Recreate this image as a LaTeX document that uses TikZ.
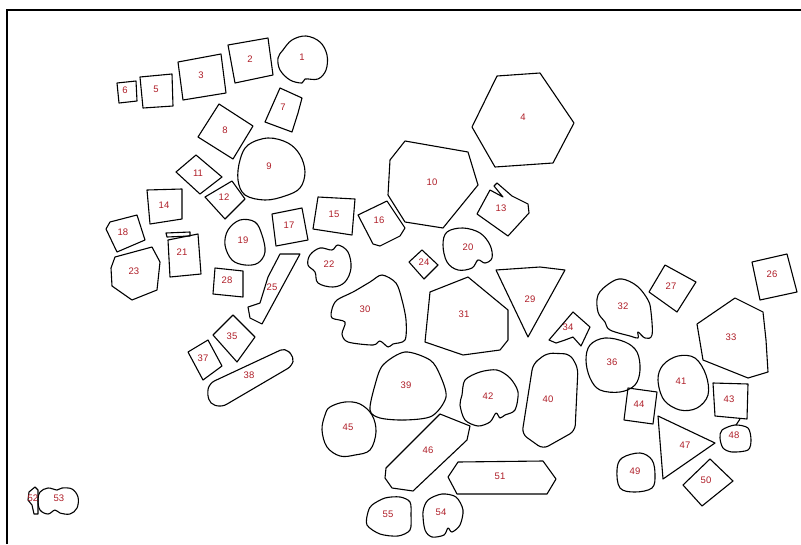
\documentclass[tikz,border=0pt]{standalone}
\usepackage{fontspec}
\setmainfont{Liberation Sans}
\definecolor{labred}{RGB}{175,30,40}
\tikzset{
  grain/.style={draw=black, line width=1.1pt, line join=round},
  blob/.style={grain},
  lbl/.style={text=labred, font=\fontsize{9.5}{10}\selectfont, inner sep=0pt}
}
\begin{document}
\begin{tikzpicture}[x=1pt,y=-1pt]
\useasboundingbox (0,0) rectangle (801,544);
\fill[white] (0,0) rectangle (801,544);
\draw[line width=1.6pt] (7,544) -- (7,10) -- (801,10);
% polygons
\draw[grain] (228,45) -- (268,38) -- (273,75) -- (235,83) -- cycle;
\draw[grain] (178,62) -- (221,54) -- (226,93) -- (183,100) -- cycle;
\draw[grain] (497,76) -- (540,73) -- (574,123) -- (553,163) -- (495,167) -- (472,127) -- cycle;
\draw[grain] (140,77) -- (172,74) -- (173,106) -- (143,108) -- cycle;
\draw[grain] (117,83) -- (136,81) -- (137,101) -- (119,103) -- cycle;
\draw[grain] (280,88) -- (302,98) -- (298,113) -- (292,132) -- (265,122) -- cycle;
\draw[grain] (219,104) -- (253,126) -- (233,159) -- (198,137) -- cycle;
\draw[grain] (405,141) -- (468,152) -- (478,185) -- (443,228) -- (405,222) -- (388,195) -- (390,160) -- cycle;
\draw[grain] (196,155) -- (222,177) -- (200,194) -- (176,172) -- cycle;
\draw[grain] (205,197) -- (232,181) -- (245,199) -- (225,219) -- cycle;
\draw[grain] (477,214) -- (490,190) -- (503,197) -- (494,186) -- (497,183) -- (512,196) -- (528,204) -- (529,213) -- (508,236) -- cycle;
\draw[grain] (147,190) -- (182,189) -- (182,219) -- (150,224) -- cycle;
\draw[grain] (318,197) -- (355,199) -- (352,235) -- (313,229) -- cycle;
\draw[grain] (358,215) -- (387,201) -- (405,228) -- (400,236) -- (380,246) -- (373,244) -- cycle;
\draw[grain] (272,214) -- (302,208) -- (308,240) -- (276,246) -- cycle;
\draw[grain] (106,229) -- (110,222) -- (137,215) -- (145,240) -- (117,252) -- cycle;
\draw[grain] (168,240) -- (198,234) -- (201,274) -- (170,277) -- cycle;
\draw[grain] (166,233) -- (190,232) -- (190,236) -- (167,237) -- cycle;
\draw[grain] (115,257) -- (152,247) -- (160,262) -- (157,290) -- (132,300) -- (112,286) -- (111,268) -- cycle;
\draw[grain] (409,262) -- (422,250) -- (438,265) -- (424,279) -- cycle;
\draw[grain] (280,254) -- (300,254) -- (262,324) -- (250,318) -- (248,307) -- (260,303) -- (268,277) -- cycle;
\draw[grain] (752,262) -- (787,254) -- (797,292) -- (760,300) -- cycle;
\draw[grain] (665,265) -- (696,282) -- (677,312) -- (649,292) -- cycle;
\draw[grain] (215,268) -- (243,271) -- (243,297) -- (213,294) -- cycle;
\draw[grain] (496,270) -- (540,267) -- (565,270) -- (528,337) -- cycle;
\draw[grain] (468,277) -- (508,310) -- (508,340) -- (500,350) -- (463,355) -- (425,342) -- (430,292) -- cycle;
\draw[grain] (735,298) -- (763,312) -- (766,340) -- (768,372) -- (748,378) -- (703,360) -- (697,324) -- cycle;
\draw[grain] (549,340) -- (573,312) -- (590,327) -- (581,346) -- (573,337) -- (565,340) -- (556,343) -- cycle;
\draw[grain] (233,315) -- (255,337) -- (237,362) -- (213,335) -- cycle;
\draw[grain] (188,352) -- (208,340) -- (222,366) -- (203,380) -- cycle;
\draw[grain, rounded corners=5pt] (210,383) -- (285,348) -- (294,357) -- (292,366) -- (222,407) -- (210,404) -- (207,392) -- cycle;
\draw[grain, rounded corners=6pt] (547,353) -- (570,354) -- (578,368) -- (575,431) -- (543,449) -- (522,434) -- (533,364) -- cycle;
\draw[grain] (713,383) -- (748,384) -- (747,419) -- (715,416) -- cycle;
\draw[grain] (628,388) -- (657,392) -- (653,424) -- (624,420) -- cycle;
\draw[grain] (386,468) -- (440,414) -- (470,426) -- (467,440) -- (413,491) -- (392,488) -- (385,478) -- cycle;
\draw[grain] (658,416) -- (715,443) -- (663,479) -- cycle;
\draw[grain] (710,459) -- (733,481) -- (702,506) -- (683,485) -- cycle;
\draw[grain] (458,462) -- (543,461) -- (556,479) -- (547,494) -- (457,494) -- (448,477) -- cycle;
\draw[grain] (29,492) -- (35,487) -- (38,490) -- (38,514) -- (34,514) -- (32,505) -- (28,500) -- cycle;
% blobs
\draw[blob] plot[smooth cycle, tension=0.6] coordinates {(283,50) (292,40) (306,36) (320,42) (327,55) (326,70) (318,79) (305,79) (302,83) (290,80) (280,70) (278,58)};
\draw[blob] plot[smooth cycle, tension=0.6] coordinates {(248,145) (268,138) (288,143) (300,155) (305,172) (300,188) (285,196) (265,200) (245,195) (238,180) (240,160)};
\draw[blob] plot[smooth cycle, tension=0.6] coordinates {(228,230) (240,220) (255,222) (262,235) (265,252) (258,263) (245,265) (232,260) (225,245)};
\draw[blob] plot[smooth cycle, tension=0.6] coordinates {(447,232) (463,228) (480,233) (490,245) (492,258) (485,263) (478,260) (472,268) (458,270) (447,262) (443,245)};
\draw[blob] plot[smooth cycle, tension=0.6] coordinates {(310,255) (320,248) (332,250) (338,245) (348,252) (351,268) (345,282) (333,287) (318,283) (315,272) (308,265)};
\draw[blob] plot[smooth cycle, tension=0.5] coordinates {(337,300) (353,292) (370,282) (382,275) (396,283) (402,300) (406,320) (405,340) (393,344) (388,347) (380,341) (373,345) (348,342) (342,334) (345,322) (332,318) (332,309)};
\draw[blob] plot[smooth cycle, tension=0.6] coordinates {(598,295) (610,283) (622,279) (637,286) (648,300) (651,312) (652,335) (645,338) (638,332) (638,338) (630,336) (610,330) (605,322) (598,312)};
\draw[blob] plot[smooth cycle, tension=0.6] coordinates {(590,345) (605,338) (625,342) (637,352) (640,370) (635,385) (620,392) (600,390) (590,378) (586,360)};
\draw[blob] plot[smooth cycle, tension=0.5] coordinates {(383,365) (405,352) (430,360) (440,375) (446,397) (432,416) (405,420) (380,418) (370,410) (375,385)};
\draw[blob] plot[smooth cycle, tension=0.6] coordinates {(663,365) (678,356) (695,358) (706,375) (708,395) (697,408) (680,410) (664,400) (658,380)};
\draw[blob] plot[smooth cycle, tension=0.5] coordinates {(465,380) (480,372) (497,370) (510,378) (518,392) (515,410) (505,415) (500,418) (496,413) (490,422) (478,426) (465,420) (460,405) (462,395)};
\draw[blob] plot[smooth cycle, tension=0.6] coordinates {(330,407) (345,402) (360,404) (372,415) (376,432) (370,450) (355,455) (340,456) (327,447) (322,430) (325,415)};
\draw[blob] plot[smooth cycle, tension=0.5] coordinates {(722,430) (735,425) (748,428) (751,440) (748,450) (732,452) (723,448) (720,438)};
\draw[grain] (740,419) -- (736,425);
\draw[blob] plot[smooth cycle, tension=0.6] coordinates {(622,458) (640,453) (652,460) (655,475) (652,488) (635,492) (620,488) (617,470)};
\draw[blob] plot[smooth cycle, tension=0.6] coordinates {(40,492) (48,488) (57,490) (62,488) (72,489) (78,497) (77,508) (70,514) (60,513) (55,510) (48,514) (40,510) (38,500)};
\draw[blob] plot[smooth cycle, tension=0.5] coordinates {(428,500) (442,494) (456,497) (463,510) (460,525) (452,532) (448,528) (444,535) (432,537) (425,530) (423,512)};
\draw[blob] plot[smooth cycle, tension=0.5] coordinates {(372,505) (385,498) (400,497) (410,502) (411,515) (410,530) (398,536) (380,534) (367,525) (368,512)};
% labels
\node[lbl] (l1) at (302,57) {1};
\node[lbl] (l2) at (250,59) {2};
\node[lbl] (l3) at (201,75) {3};
\node[lbl] (l4) at (523,117) {4};
\node[lbl] (l5) at (156,89) {5};
\node[lbl] (l6) at (125,90) {6};
\node[lbl] (l7) at (283,107) {7};
\node[lbl] (l8) at (225,130) {8};
\node[lbl] (l9) at (269,166) {9};
\node[lbl] (l10) at (432,182) {10};
\node[lbl] (l11) at (198,173) {11};
\node[lbl] (l12) at (224,197) {12};
\node[lbl] (l13) at (501,208) {13};
\node[lbl] (l14) at (164,205) {14};
\node[lbl] (l15) at (334,214) {15};
\node[lbl] (l16) at (379,220) {16};
\node[lbl] (l17) at (289,225) {17};
\node[lbl] (l18) at (123,232) {18};
\node[lbl] (l19) at (243,240) {19};
\node[lbl] (l20) at (468,247) {20};
\node[lbl] (l21) at (182,252) {21};
\node[lbl] (l22) at (329,264) {22};
\node[lbl] (l23) at (134,271) {23};
\node[lbl] (l24) at (424,262) {24};
\node[lbl] (l25) at (272,287) {25};
\node[lbl] (l26) at (772,274) {26};
\node[lbl] (l27) at (671,286) {27};
\node[lbl] (l28) at (227,280) {28};
\node[lbl] (l29) at (530,299) {29};
\node[lbl] (l30) at (365,309) {30};
\node[lbl] (l31) at (464,314) {31};
\node[lbl] (l32) at (623,306) {32};
\node[lbl] (l33) at (731,337) {33};
\node[lbl] (l34) at (568,327) {34};
\node[lbl] (l35) at (232,336) {35};
\node[lbl] (l36) at (612,362) {36};
\node[lbl] (l37) at (203,358) {37};
\node[lbl] (l38) at (249,375) {38};
\node[lbl] (l39) at (406,385) {39};
\node[lbl] (l40) at (548,399) {40};
\node[lbl] (l41) at (681,381) {41};
\node[lbl] (l42) at (488,396) {42};
\node[lbl] (l43) at (729,399) {43};
\node[lbl] (l44) at (639,404) {44};
\node[lbl] (l45) at (348,427) {45};
\node[lbl] (l46) at (428,450) {46};
\node[lbl] (l47) at (685,445) {47};
\node[lbl] (l48) at (734,435) {48};
\node[lbl] (l49) at (635,471) {49};
\node[lbl] (l50) at (706,480) {50};
\node[lbl] (l51) at (500,476) {51};
\node[lbl] (l52) at (33,498) {52};
\node[lbl] (l53) at (59,498) {53};
\node[lbl] (l54) at (441,512) {54};
\node[lbl] (l55) at (388,514) {55};
\end{tikzpicture}
\end{document}
